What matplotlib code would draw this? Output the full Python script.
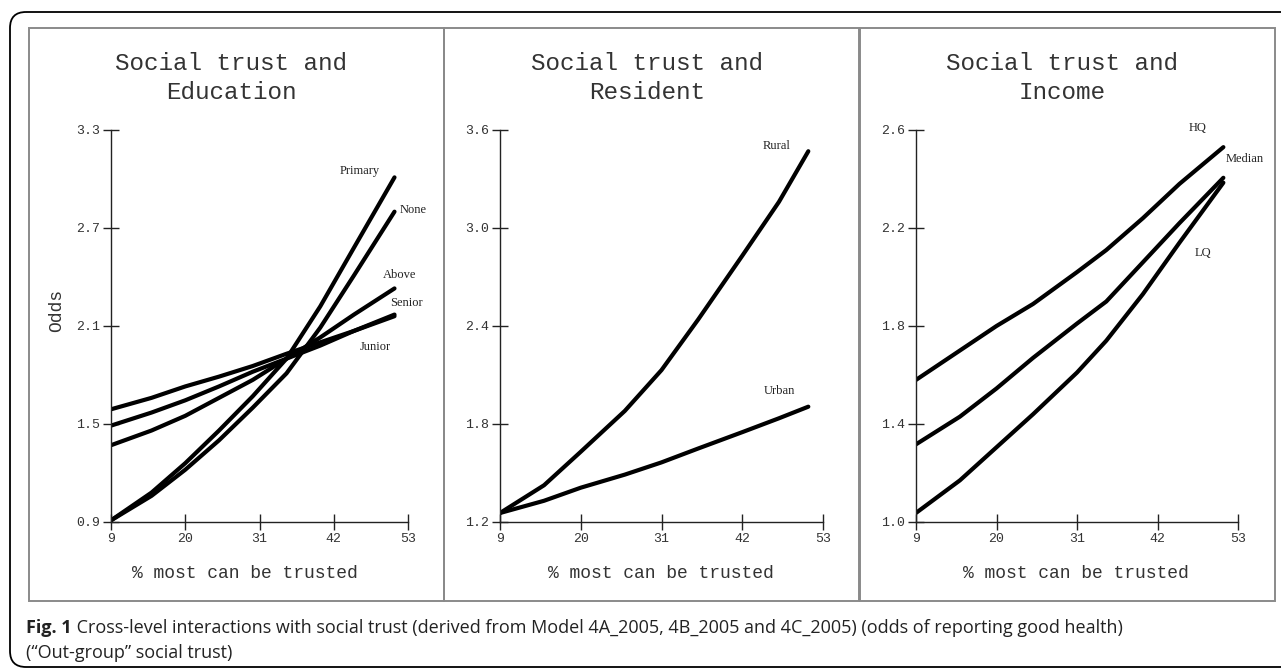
import matplotlib
matplotlib.use("Agg")
import matplotlib.pyplot as plt
from matplotlib.patches import FancyBboxPatch, Rectangle

# --- data ---
edu_x = [9, 15, 20, 25, 30, 35, 40, 45, 51]
primary = [0.91, 1.08, 1.26, 1.46, 1.67, 1.90, 2.22, 2.58, 3.01]
none_ed = [0.91, 1.06, 1.22, 1.40, 1.60, 1.81, 2.09, 2.41, 2.80]
above = [1.37, 1.46, 1.55, 1.66, 1.77, 1.90, 2.03, 2.17, 2.33]
senior = [1.49, 1.57, 1.645, 1.73, 1.82, 1.90, 1.98, 2.07, 2.17]
junior = [1.59, 1.66, 1.73, 1.79, 1.855, 1.93, 2.00, 2.07, 2.16]

res_x = [9, 15, 20, 26, 31, 36, 42, 47, 51]
rural = [1.255, 1.425, 1.63, 1.88, 2.13, 2.44, 2.83, 3.16, 3.47]
urban = [1.255, 1.33, 1.41, 1.49, 1.565, 1.65, 1.75, 1.835, 1.906]

inc_x = [9, 15, 20, 25, 31, 35, 40, 45, 51]
hq = [1.58, 1.70, 1.80, 1.89, 2.02, 2.11, 2.24, 2.38, 2.53]
median = [1.317, 1.43, 1.545, 1.67, 1.81, 1.90, 2.06, 2.22, 2.405]
lq = [1.037, 1.17, 1.305, 1.44, 1.61, 1.74, 1.93, 2.14, 2.385]

x_ticks = [9, 20, 31, 42, 53]
edu_yticks = [0.9, 1.5, 2.1, 2.7, 3.3]
res_yticks = [1.2, 1.8, 2.4, 3.0, 3.6]
inc_yticks = [1.0, 1.4, 1.8, 2.2, 2.6]

titles = ["Social trust and\nEducation", "Social trust and\nResident", "Social trust and\nIncome"]
xlabel = "% most can be trusted"

W, H = 1281, 672
MONO = "Liberation Mono"
SERIF = "Liberation Serif"
CAP = "Open Sans"
cap_size = 13

fig = plt.figure(figsize=(W / 100, H / 100), dpi=100)

# overlay in pixel units for frames, titles, caption
ov = fig.add_axes([0, 0, 1, 1], zorder=0)
ov.set_xlim(0, W)
ov.set_ylim(H, 0)
ov.axis("off")

ov.add_patch(FancyBboxPatch((10, 12), 1290, 655, boxstyle="round,pad=0,rounding_size=16",
                            fill=False, ec="black", lw=1.3))
for (x0, x1) in [(29, 444), (444, 859), (860, 1275)]:
    ov.add_patch(Rectangle((x0, 28), x1 - x0, 573, fill=False, ec="#8a8a8a", lw=1.4))

def panel(left_px, right_px, yticks, series, labels, title_x, title):
    ax = fig.add_axes([left_px / W, (H - 522) / H, (right_px - left_px) / W, 392 / H], zorder=1)
    ax.patch.set_alpha(0)
    for xs, ys in series:
        ax.plot(xs, ys, color="black", lw=3, solid_capstyle="round", solid_joinstyle="round")
    for txt, lx, ly in labels:
        ax.text(lx, ly, txt, fontsize=9, family=SERIF, color="#222222", ha="center", va="center")
    ax.set_xlim(9, 53)
    ax.set_ylim(yticks[0], yticks[-1])
    ax.set_xticks(x_ticks)
    ax.set_yticks(yticks)
    ax.set_yticklabels([f"{v:.1f}" for v in yticks])
    for s in ["top", "right"]:
        ax.spines[s].set_visible(False)
    for s in ["left", "bottom"]:
        ax.spines[s].set_linewidth(1.0)
        ax.spines[s].set_color("#222222")
    ax.tick_params(direction="inout", length=12, width=1.0, color="#222222",
                   labelsize=9.5, labelcolor="#333333", pad=2)
    for lab in ax.get_xticklabels() + ax.get_yticklabels():
        lab.set_family(MONO)
    ov.text(title_x, 78, title, family=MONO, fontsize=17.5, color="#333333",
            ha="center", va="center", linespacing=1.3)
    ov.text(title_x + 14, 573, xlabel, family=MONO, fontsize=13, color="#333333",
            ha="center", va="center")
    return ax

panel(111, 408, edu_yticks,
      [(edu_x, primary), (edu_x, none_ed), (edu_x, above), (edu_x, senior), (edu_x, junior)],
      [("Primary", 45.9, 3.05), ("None", 53.7, 2.81), ("Above", 51.8, 2.41),
       ("Senior", 52.8, 2.24), ("Junior", 48.2, 1.97)], 231, titles[0])
panel(500, 823, res_yticks,
      [(res_x, rural), (res_x, urban)],
      [("Rural", 46.7, 3.50), ("Urban", 47.1, 2.00)], 647, titles[1])
panel(916, 1238, inc_yticks,
      [(inc_x, hq), (inc_x, median), (inc_x, lq)],
      [("HQ", 47.5, 2.61), ("Median", 53.9, 2.48), ("LQ", 48.2, 2.10)], 1062, titles[2])

ov.text(57, 311, "Odds", family=MONO, fontsize=13, color="#333333", rotation=90,
        ha="center", va="center")

t1 = ov.text(26, 628, "Fig. 1", family=CAP, fontsize=cap_size, fontweight="bold",
             color="#222222", ha="left", va="center")
ov.annotate(" Cross-level interactions with social trust (derived from Model 4A_2005, 4B_2005 and 4C_2005) "
            "(odds of reporting good health)", xy=(1, 0.5), xycoords=t1, family=CAP,
            fontsize=cap_size, color="#222222", ha="left", va="center")
ov.text(26, 653, "(\u201cOut-group\u201d social trust)", family=CAP, fontsize=cap_size,
        color="#222222", ha="left", va="center")

fig.savefig("out.png", dpi=100)
